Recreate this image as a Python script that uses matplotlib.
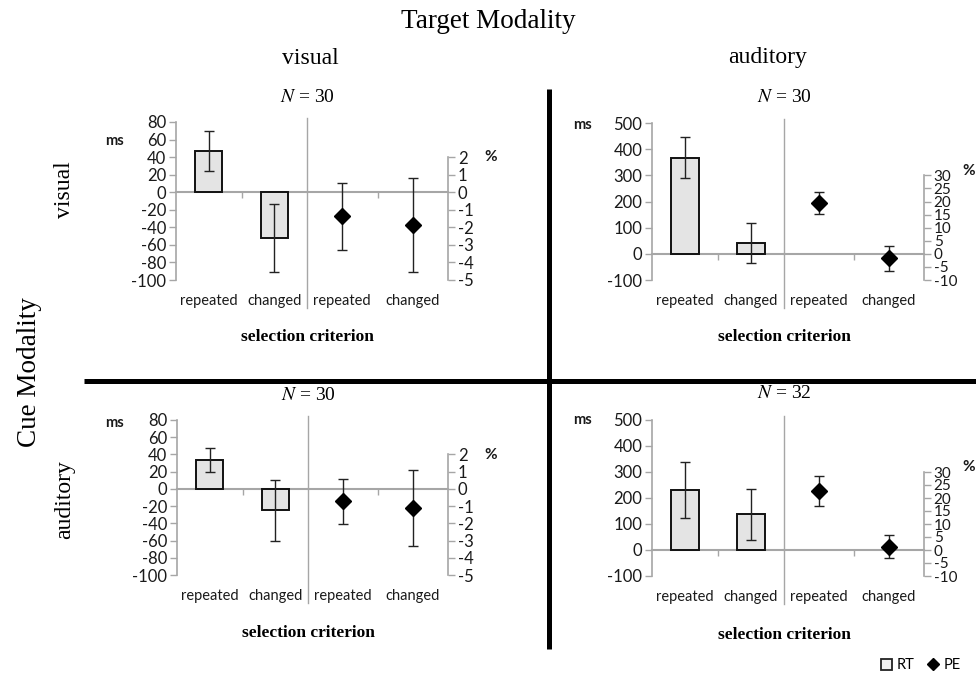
import matplotlib
matplotlib.use('Agg')
import matplotlib.pyplot as plt
from matplotlib.lines import Line2D
from matplotlib.patches import Patch

# ---------------- data ----------------
categories = ['repeated', 'changed']

# RT (ms) means and error bars per panel: cue-target
rt_vis_vis = [47, -52]
rt_vis_vis_err = [23, 39]
rt_vis_aud = [368, 41]
rt_vis_aud_err = [80, 76]
rt_aud_vis = [34, -25]
rt_aud_vis_err = [14, 35]
rt_aud_aud = [231, 137]
rt_aud_aud_err = [107, 97]

# PE (%) means and error bars per panel
pe_vis_vis = [-1.37, -1.87]
pe_vis_vis_err = [1.9, 2.7]
pe_vis_aud = [19.5, -1.7]
pe_vis_aud_err = [4.2, 4.8]
pe_aud_vis = [-0.72, -1.12]
pe_aud_vis_err = [1.3, 2.2]
pe_aud_aud = [22.7, 1.3]
pe_aud_aud_err = [5.9, 4.5]

n_labels = ['30', '30', '30', '32']

rt_ticks_visual = list(range(-100, 81, 20))
pe_ticks_visual = list(range(-5, 3, 1))
rt_ticks_auditory = list(range(-100, 501, 100))
pe_ticks_auditory = list(range(-10, 31, 5))

# ---------------- style ----------------
W, H = 976, 682
plt.rcParams['mathtext.fontset'] = 'stix'
plt.rcParams['axes.unicode_minus'] = False
fig = plt.figure(figsize=(W / 100, H / 100), dpi=100)
SANS = ['Lato', 'DejaVu Sans']
SERIF = ['Liberation Serif', 'DejaVu Serif']
GRAY = '#a6a6a6'
TXT = '#1a1a1a'
TICKSIZE = 12
CATSIZE = 10.5


def ax_at(x0, x1, y0, y1):
    return fig.add_axes([x0 / W, 1 - y1 / H, (x1 - x0) / W, (y1 - y0) / H])


def fig_line(xs, ys, **kw):
    fig.add_artist(Line2D([x / W for x in xs], [1 - y / H for y in ys],
                          transform=fig.transFigure, **kw))


def style_common(ax):
    ax.set_xlim(-0.5, 1.5)
    ax.set_facecolor('none')
    ax.spines['top'].set_visible(False)
    ax.spines['bottom'].set_position(('data', 0))
    ax.spines['bottom'].set_color(GRAY)
    ax.spines['bottom'].set_linewidth(1.5)
    ax.set_xticks([0.5])
    ax.tick_params(axis='x', length=4, color=GRAY, width=1, labelbottom=False)
    for i, c in enumerate(categories):
        ax.annotate(c, xy=(i, 0), xycoords=('data', 'axes fraction'),
                    xytext=(0, -15), textcoords='offset points',
                    ha='center', va='center', fontsize=CATSIZE, family=SANS, color=TXT)


panels = [
    dict(rt=rt_vis_vis, rte=rt_vis_vis_err, pe=pe_vis_vis, pee=pe_vis_vis_err,
         rtt=rt_ticks_visual, pet=pe_ticks_visual, rtlim=(-100, 80), pelim=(-5, 4),
         box=(176, 307, 448, 122, 280), ms=(114, 141), pct=(491, 157),
         n=n_labels[0], ny=98, scy=337, pesize=TICKSIZE),
    dict(rt=rt_vis_aud, rte=rt_vis_aud_err, pe=pe_vis_aud, pee=pe_vis_aud_err,
         rtt=rt_ticks_auditory, pet=pe_ticks_auditory, rtlim=(-100, 500), pelim=(-10, 50),
         box=(652, 784, 924, 123, 280), ms=(582, 125), pct=(969, 171),
         n=n_labels[1], ny=98, scy=337, pesize=11),
    dict(rt=rt_aud_vis, rte=rt_aud_vis_err, pe=pe_aud_vis, pee=pe_aud_vis_err,
         rtt=rt_ticks_visual, pet=pe_ticks_visual, rtlim=(-100, 80), pelim=(-5, 4),
         box=(177, 308, 448, 420, 575), ms=(114, 423), pct=(491, 455),
         n=n_labels[2], ny=395, scy=633, pesize=TICKSIZE),
    dict(rt=rt_aud_aud, rte=rt_aud_aud_err, pe=pe_aud_aud, pee=pe_aud_aud_err,
         rtt=rt_ticks_auditory, pet=pe_ticks_auditory, rtlim=(-100, 500), pelim=(-10, 50),
         box=(652, 784, 924, 420, 576), ms=(582, 420), pct=(969, 467),
         n=n_labels[3], ny=393, scy=635, pesize=11),
]

for p in panels:
    xl, xm, xr, yt, yb = p['box']
    # RT axes
    a = ax_at(xl, xm, yt, yb)
    style_common(a)
    a.spines['right'].set_visible(False)
    a.spines['left'].set_color(GRAY)
    a.spines['left'].set_linewidth(1.2)
    a.set_ylim(*p['rtlim'])
    a.set_yticks(p['rtt'])
    a.tick_params(axis='y', length=5, color=GRAY, width=1, labelsize=TICKSIZE,
                  labelcolor=TXT, pad=2)
    for lab in a.get_yticklabels():
        lab.set_family(SANS)
    a.bar(range(len(categories)), p['rt'], width=0.41, color='#e4e4e4',
          edgecolor='#111111', linewidth=1.4, zorder=3)
    a.errorbar(range(len(categories)), p['rt'], yerr=p['rte'], fmt='none',
               ecolor='#222222', elinewidth=1, capsize=3.5, capthick=1, zorder=4)
    # PE axes
    b = ax_at(xm, xr, yt, yb)
    style_common(b)
    b.spines['left'].set_visible(False)
    b.spines['right'].set_color(GRAY)
    b.spines['right'].set_linewidth(1.2)
    b.set_ylim(*p['pelim'])
    b.set_yticks(p['pet'])
    b.spines['right'].set_bounds(p['pet'][0], p['pet'][-1])
    b.yaxis.tick_right()
    b.tick_params(axis='y', length=5, color=GRAY, width=1, labelsize=p['pesize'],
                  labelcolor=TXT, pad=2)
    for lab in b.get_yticklabels():
        lab.set_family(SANS)
    b.errorbar(range(len(categories)), p['pe'], yerr=p['pee'], fmt='D',
               color='black', markersize=8, ecolor='#222222', elinewidth=1,
               capsize=3.5, capthick=1, zorder=4)
    # divider line
    fig_line([xm, xm], [yt - 4, yb + 28], color=GRAY, lw=1)
    # labels
    fig.text(p['ms'][0] / W, 1 - p['ms'][1] / H, 'ms', ha='center', va='center',
             fontsize=10.5, fontweight='bold', family=SANS, color=TXT)
    fig.text(p['pct'][0] / W, 1 - p['pct'][1] / H, '%', ha='center', va='center',
             fontsize=11, fontweight='bold', family=SANS, color=TXT)
    fig.text(xm / W, 1 - p['ny'] / H, r'$N$ = ' + p['n'], ha='center', va='center',
             fontsize=14, family=SERIF)
    fig.text(xm / W, 1 - p['scy'] / H, 'selection criterion', ha='center', va='center',
             fontsize=12.5, fontweight='bold', family=SERIF)

# thick separator lines
fig_line([549, 549], [89, 649], color='black', lw=3.6, solid_capstyle='butt')
fig_line([84, 976], [381, 381], color='black', lw=3.6, solid_capstyle='butt')

# headers
fig.text(488 / W, 1 - 22 / H, 'Target Modality', ha='center', va='center',
         fontsize=19.5, family=SERIF)
fig.text(310 / W, 1 - 58 / H, 'visual', ha='center', va='center', fontsize=17, family=SERIF)
fig.text(768 / W, 1 - 58 / H, 'auditory', ha='center', va='center', fontsize=17, family=SERIF)
fig.text(30 / W, 1 - 372 / H, 'Cue Modality', ha='center', va='center', rotation=90,
         fontsize=19.5, family=SERIF)
fig.text(65 / W, 1 - 190 / H, 'visual', ha='center', va='center', rotation=90,
         fontsize=17, family=SERIF)
fig.text(65 / W, 1 - 500 / H, 'auditory', ha='center', va='center', rotation=90,
         fontsize=17, family=SERIF)

# legend
handles = [Patch(facecolor='#f0f0f0', edgecolor='#222222', linewidth=1.3, label='RT'),
           Line2D([], [], marker='D', color='black', linestyle='none', markersize=6.5, label='PE')]
fig.legend(handles=handles, loc='lower right', bbox_to_anchor=(0.998, -0.005), ncol=2,
           frameon=False, handlelength=0.8, handleheight=0.8,
           handletextpad=0.3, columnspacing=0.9, prop={'family': SANS, 'size': 10.5})

fig.savefig('out.png', dpi=100)
